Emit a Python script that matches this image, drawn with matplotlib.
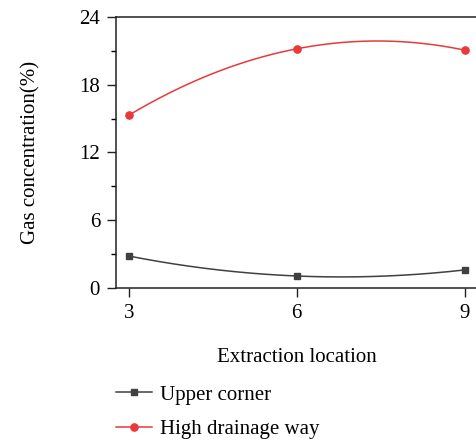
import matplotlib.pyplot as plt
import numpy as np

plt.rcParams['font.family'] = ['Liberation Serif', 'DejaVu Serif']

locations = [3, 6, 9]
upper_corner = [2.83, 1.06, 1.60]
high_drainage = [15.3, 21.18, 21.06]

colors = {'upper': '#404040', 'drain': '#e8393b'}


def smooth(x, y, n=200):
    # quadratic through the three points gives the rounded curve
    coef = np.polyfit(x, y, 2)
    xs = np.linspace(min(x), max(x), n)
    return xs, np.polyval(coef, xs)


fig = plt.figure(figsize=(4.76, 4.40), dpi=100)
ax = fig.add_axes([0.2437, 0.3455, 0.762, 0.616])

for key, vals, marker, ms, label in [('upper', upper_corner, 's', 4.5, 'Upper corner'),
                                     ('drain', high_drainage, 'o', 5.2, 'High drainage way')]:
    xs, ys = smooth(locations, vals)
    ax.plot(xs, ys, color=colors[key], lw=1.1)
    ax.plot(locations, vals, ls='none', marker=marker, ms=ms, color=colors[key])
    # proxy artist for the legend entry
    ax.plot([], [], color=colors[key], lw=1.1, marker=marker, ms=ms, label=label)

ax.set_xlim(2.77, 9.25)
ax.set_ylim(0, 24)
ax.set_xticks(locations)
ax.set_yticks([0, 6, 12, 18, 24])
ax.set_yticks([3, 9, 15, 21], minor=True)
ax.tick_params(axis='both', which='major', direction='out', length=6.5, width=1,
               labelsize=15, color='#222222', pad=5)
ax.tick_params(axis='y', which='minor', direction='out', length=3.5, width=1)
for s in ax.spines.values():
    s.set_linewidth(1.1)
    s.set_color('#222222')

ax.set_xlabel('Extraction location', fontsize=15, labelpad=18)
ax.set_ylabel('Gas concentration(%)', fontsize=15, labelpad=28)

ax.legend(loc='upper left', bbox_to_anchor=(0.2437, 0.125),
          bbox_transform=fig.transFigure, frameon=False,
          fontsize=15, handlelength=1.75, handletextpad=0.35, labelspacing=0.72,
          borderaxespad=0, borderpad=0)

fig.savefig('out.png', dpi=100)
